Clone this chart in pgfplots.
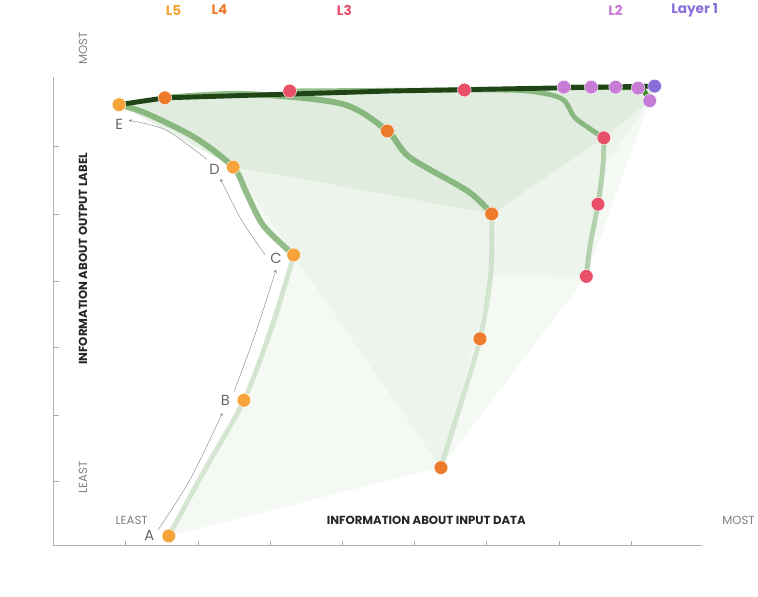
\documentclass[border=0pt]{standalone}
\usepackage{pgfplots}
\pgfplotsset{compat=1.18}
\usepackage{fontspec}
\setmainfont{Poppins}
\definecolor{lfive}{HTML}{F5A33A}
\definecolor{lfour}{HTML}{EE7A2C}
\definecolor{lthree}{HTML}{E8506A}
\definecolor{ltwo}{HTML}{C77CD6}
\definecolor{lone}{HTML}{8A6FD8}
\definecolor{gr}{HTML}{3E8A2E}
\begin{document}
\begin{tikzpicture}
\begin{axis}[scale only axis, width=665pt, height=480pt, anchor=origin,
  xmin=55, xmax=720, ymin=52, ymax=532, clip=false,
  xtick={129,203,277,351,425,499,573,647}, ytick={118,186,255,323,392,461},
  xticklabels={}, yticklabels={}, tick style={gray!70, thick}, major tick length=5pt,
  axis x line*=bottom, axis y line*=left, tick align=inside,
  axis line style={gray!60, thick}]
\path (axis cs:0,0) rectangle (axis cs:758,574);
% light fill
\addplot[draw=none, fill=gr, fill opacity=0.05] coordinates {(173,62)(452,132)(601,328)(666,508)(671,523)(169,511)(122,504)(150,495)(200,470)(239,440)(250,420)(270,380)(301,350)(250,201)(173,62)};
\addplot[draw=none, fill=gr, fill opacity=0.05] coordinates {(301,350)(452,132)(505,330)(601,328)(618,440)(666,508)(671,523)(169,511)(122,504)(239,440)(301,350)};
\addplot[draw=none, fill=gr, fill opacity=0.07] coordinates {(300,430)(504,392)(619,470)(666,508)(671,523)(169,511)(122,504)(239,440)};
% curves
\addplot[gr!40, line width=5pt, opacity=0.5, smooth] coordinates {(173,62)(210,130)(250,201)(280,280)(301,350)};
\addplot[gr!80, line width=6pt, opacity=0.7, smooth] coordinates {(301,350)(270,380)(252,415)(239,440)(200,470)(150,495)(122,504)};
\addplot[gr!40, line width=5pt, opacity=0.5, smooth] coordinates {(452,132)(470,190)(492,264)(503,330)(504,392)};
\addplot[gr!80, line width=6pt, opacity=0.7, smooth] coordinates {(504,392)(480,415)(420,450)(397,477)(350,505)(250,515)(169,511)};
\addplot[gr!60, line width=5pt, opacity=0.6, smooth] coordinates {(601,328)(605,360)(613,402)(618,440)(619,470)};
\addplot[gr!80, line width=5pt, opacity=0.7, smooth] coordinates {(619,470)(590,490)(576,510)(540,518)(476,519)(297,518)};
\addplot[gr, line width=5pt, smooth] coordinates {(666,508)(660,518)(654,521)(606,522)(578,522)};
\addplot[gr!50!black, line width=5pt] coordinates {(122,504)(169,511)(400,518)(671,523)};
% arrows
\addplot[gray, thin, -stealth, smooth] coordinates {(162,68)(195,120)(228,188)};
\addplot[gray, thin, -stealth, smooth] coordinates {(240,210)(262,270)(283,335)};
\addplot[gray, thin, -stealth, smooth] coordinates {(272,350)(248,385)(226,428)};
\addplot[gray, thin, -stealth, smooth] coordinates {(212,448)(170,478)(132,488)};
% markers
\addplot[only marks, mark=*, mark size=7pt, mark options={fill=lfive, draw=white}] coordinates {(173,62)(250,201)(301,350)(239,440)(122,504)};
\addplot[only marks, mark=*, mark size=7pt, mark options={fill=lfour, draw=white}] coordinates {(452,132)(492,264)(504,392)(397,477)(169,511)};
\addplot[only marks, mark=*, mark size=7pt, mark options={fill=lthree, draw=white}] coordinates {(601,328)(613,402)(619,470)(476,519)(297,518)};
\addplot[only marks, mark=*, mark size=7pt, mark options={fill=ltwo, draw=white}] coordinates {(666,508)(654,521)(631,522)(606,522)(578,522)};
\addplot[only marks, mark=*, mark size=7pt, mark options={fill=lone, draw=white}] coordinates {(671,523)};
% point labels
\addplot[only marks, mark=none, nodes near coords, point meta=explicit symbolic,
  nodes near coords style={font=\fontsize{15}{15}\selectfont, text=gray!80!black, anchor=center}]
  table[meta=l] {x y l
153 62 A
231 201 B
283 346 C
220 438 D
122 484 E
};
\end{axis}
\begin{scope}[x=1pt,y=1pt]
\node[font=\bfseries\fontsize{14}{14}\selectfont, text=lfive] at (123,549) {L5};
\node[font=\bfseries\fontsize{14}{14}\selectfont, text=lfour] at (170,549) {L4};
\node[font=\bfseries\fontsize{14}{14}\selectfont, text=lthree] at (298,549) {L3};
\node[font=\bfseries\fontsize{14}{14}\selectfont, text=ltwo] at (576,549) {L2};
\node[font=\bfseries\fontsize{14}{14}\selectfont, text=lone] at (657,549) {Layer 1};
\node[font=\bfseries\fontsize{12}{12}\selectfont, text=black!85] at (382,26) {INFORMATION ABOUT INPUT DATA};
\node[font=\fontsize{12}{12}\selectfont, text=gray] at (80,26) {LEAST};
\node[font=\fontsize{12}{12}\selectfont, text=gray] at (702,26) {MOST};
\node[font=\bfseries\fontsize{12}{12}\selectfont, text=black!85, rotate=90] at (30,294) {INFORMATION ABOUT OUTPUT LABEL};
\node[font=\fontsize{12}{12}\selectfont, text=gray, rotate=90] at (30,70) {LEAST};
\node[font=\fontsize{12}{12}\selectfont, text=gray, rotate=90] at (30,510) {MOST};
\end{scope}
\end{tikzpicture}
\end{document}
